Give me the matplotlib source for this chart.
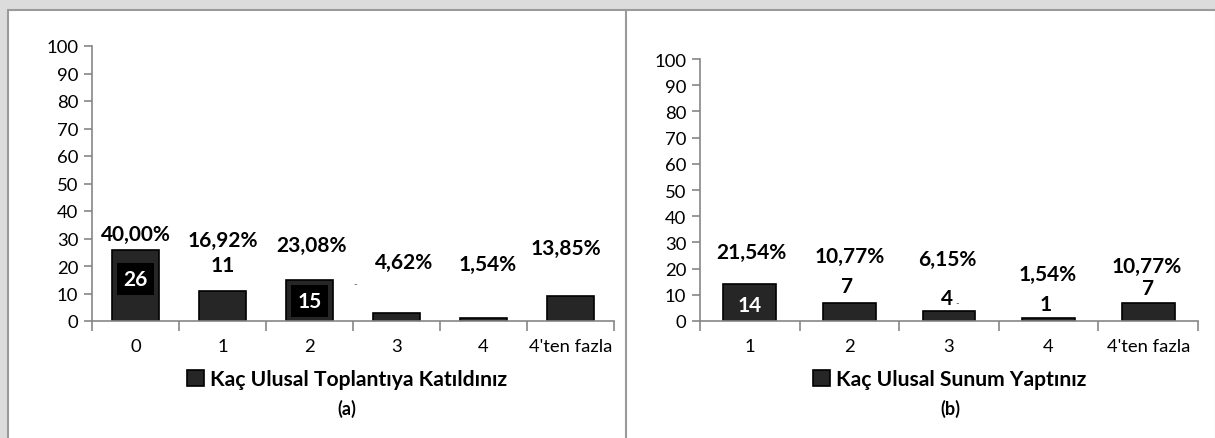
import matplotlib
matplotlib.use("Agg")
import matplotlib.pyplot as plt
from matplotlib.patches import Rectangle
import numpy as np

# ---------------- data ----------------
cats_a = ["0", "1", "2", "3", "4", "4'ten fazla"]
counts_a = [26, 11, 15, 3, 1, 9]
pct_a = ["40,00%", "16,92%", "23,08%", "4,62%", "1,54%", "13,85%"]
title_a = "Kaç Ulusal Toplantıya Katıldınız"

cats_b = ["1", "2", "3", "4", "4'ten fazla"]
counts_b = [14, 7, 4, 1, 7]
pct_b = ["21,54%", "10,77%", "6,15%", "1,54%", "10,77%"]
title_b = "Kaç Ulusal Sunum Yaptınız"

yticks = [0, 10, 20, 30, 40, 50, 60, 70, 80, 90, 100]

# ---------------- layout of labels (data units) ----------------
pct_pos_a = [(0, 31.6), (0, 29.5), (0.02, 27.6), (0.09, 21.5), (0.05, 20.7), (-0.05, 26.5)]
cnt_pos_a = [(0, 15.3, 'box'), (0, 20.4, 'plain'), (0, 7.3, 'box'), None, None, None]
dash_a = [(2.53, 13.5)]

pct_pos_b = [(0.02, 26.3), (0, 24.8), (-0.02, 23.7), (-0.01, 17.9), (-0.02, 21.0)]
cnt_pos_b = [(0, 6.1, 'white'), (-0.02, 13.4, 'plain'), (-0.02, 8.8, 'plain'),
             (-0.03, 6.5, 'plain'), (0, 12.6, 'plain')]
dash_b = [(2.08, 7.0)]

W, H = 1215, 439
fig = plt.figure(figsize=(W / 100, H / 100), dpi=100)
fig.patch.set_facecolor("#dcdcdc")

FONT = ["Lato", "DejaVu Sans"]
plt.rcParams['font.family'] = FONT


def px_rect(x0, y0, x1, y1, **kw):
    r = Rectangle((x0 / W, 1 - y1 / H), (x1 - x0) / W, (y1 - y0) / H,
                  transform=fig.transFigure, zorder=-10, **kw)
    fig.add_artist(r)


px_rect(8, 11, 1216, 441, facecolor="white", edgecolor="#9a9a9a", linewidth=1.5)
fig.add_artist(plt.Line2D([626 / W, 626 / W], [0, 1 - 11 / H], transform=fig.transFigure,
                          color="#9a9a9a", linewidth=1.5, zorder=-9))

BAR = "#262626"
AXC = "#868686"


def make_axes(rect_px, cats, counts, pcts, pct_pos, cnt_pos, dashes, title, sub, sub_x):
    x0, y0, x1, y1 = rect_px
    ax = fig.add_axes([x0 / W, 1 - y1 / H, (x1 - x0) / W, (y1 - y0) / H])
    ax.set_facecolor("none")
    x = np.arange(len(cats))
    bars = ax.bar(x, counts, width=0.53, color=BAR, edgecolor="black", linewidth=1.2,
                  label=title)
    ax.set_xlim(-0.5, len(cats) - 0.5)
    ax.set_ylim(0, 100)
    ax.set_yticks(yticks)
    ax.set_xticks(x)
    ax.set_xticklabels(cats)
    ax.set_xticks(np.arange(len(cats) + 1) - 0.5, minor=True)
    ax.tick_params(axis='x', which='major', length=0, pad=12, labelsize=13.3, colors="black")
    ax.tick_params(axis='x', which='minor', length=7, width=1.2, color=AXC, direction='out')
    ax.tick_params(axis='y', length=6, width=1.2, color=AXC, labelsize=13.3, pad=4)
    for s in ["top", "right"]:
        ax.spines[s].set_visible(False)
    for s in ["left", "bottom"]:
        ax.spines[s].set_color(AXC)
        ax.spines[s].set_linewidth(1.2)

    for i in range(len(cats)):
        dx, py = pct_pos[i]
        ax.text(i + dx, py, pcts[i], ha='center', va='center', fontsize=15,
                fontweight='bold', color="black")
        cp = cnt_pos[i]
        if cp is None:
            continue
        dx, cy, style = cp
        if style == 'box':
            ax.text(i + dx, cy, str(counts[i]), ha='center', va='center', fontsize=15,
                    fontweight='bold', color="white",
                    bbox=dict(boxstyle="square,pad=0.3", facecolor="black", edgecolor="none"))
        elif style == 'white':
            ax.text(i + dx, cy, str(counts[i]), ha='center', va='center', fontsize=15,
                    fontweight='bold', color="white")
        else:
            ax.text(i + dx, cy, str(counts[i]), ha='center', va='center', fontsize=15,
                    fontweight='bold', color="black")
    for dx, dy in dashes:
        ax.text(dx, dy, "-", ha='center', va='center', fontsize=7, color="#555555")

    fig.legend(handles=[bars], labels=[title], loc='center',
               bbox_to_anchor=(sub_x / W, 1 - 380 / H), frameon=False,
               prop=dict(size=15.2, weight='bold'), handlelength=0.8, handleheight=0.8,
               handletextpad=0.3)
    fig.text(sub_x / W, 1 - 409 / H, sub, ha='center', va='center', fontsize=13,
             fontweight='bold')
    return ax


make_axes((92, 47, 614, 322), cats_a, counts_a, pct_a, pct_pos_a, cnt_pos_a, dash_a,
          title_a, "(a)", 347)
make_axes((700, 60, 1198, 322), cats_b, counts_b, pct_b, pct_pos_b, cnt_pos_b, dash_b,
          title_b, "(b)", 950)

fig.savefig("out.png", dpi=100, facecolor=fig.get_facecolor())
